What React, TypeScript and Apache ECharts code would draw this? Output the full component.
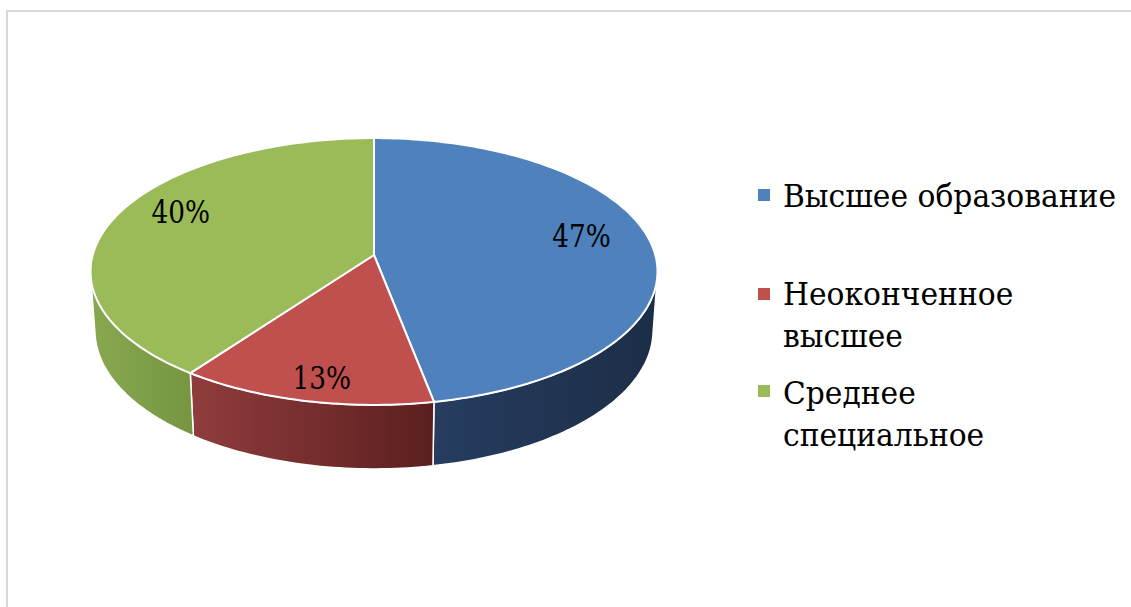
import React, { useEffect, useRef } from 'react';
import * as echarts from 'echarts';

const categories = ['Высшее образование', 'Неоконченное высшее', 'Среднее специальное'];
const legendLabels = ['Высшее образование', 'Неоконченное\nвысшее', 'Среднее\nспециальное'];
const values = [47, 13, 40];

const topColors = ['#4f81bd', '#c0504d', '#9bbb59'];
const sideColors = [
  ['#263d60', '#1c2d46'],
  ['#903c3c', '#5c1f1f'],
  ['#88a850', '#769541'],
];

// projection parameters (perspective view of a flat cylinder)
const CX = 374;
const CY = 255;
const FRD = 281.3;
const RD = 0.1398;
const H = 0.239;
const sinA = 0.467;
const cosA = Math.sqrt(1 - sinA * sinA);
const VIS_A = Math.acos(-RD / cosA);
const VIS_B = 2 * Math.PI - VIS_A;
const SERIF = 'DejaVu Serif';

function proj(theta: number, rho: number, yRel: number): number[] {
  const X = rho * Math.sin(theta);
  const Z = -rho * Math.cos(theta);
  const u = yRel * cosA - Z * sinA;
  const w = Z * cosA + yRel * sinA;
  const d = 1 - w * RD;
  return [CX + (FRD * X) / d, CY - (FRD * u) / d];
}

function arc(a: number, b: number, y: number): number[][] {
  const n = Math.max(8, Math.ceil(Math.abs(b - a) / 0.02));
  const pts: number[][] = [];
  for (let k = 0; k <= n; k++) {
    pts.push(proj(a + ((b - a) * k) / n, 1, y));
  }
  return pts;
}

export default function App() {
  const ref = useRef<HTMLDivElement>(null);
  useEffect(() => {
    if (!ref.current) return;
    const chart = echarts.init(ref.current, undefined, { renderer: 'svg' });
    const total = values.reduce((s, v) => s + v, 0);

    const renderItem = (params: any, api: any) => {
      const i = params.dataIndex;
      const v = api.value(0);
      const before = values.slice(0, i).reduce((s, x) => s + x, 0);
      const start = (before / total) * Math.PI * 2;
      const end = start + (v / total) * Math.PI * 2;
      const children: any[] = [];
      const vs = Math.max(start, VIS_A);
      const ve = Math.min(end, VIS_B);
      if (ve > vs) {
        const pts = arc(vs, ve, 0).concat(arc(ve, vs, -H));
        children.push({
          type: 'polygon',
          shape: { points: pts },
          z2: 1,
          style: {
            fill: new echarts.graphic.LinearGradient(0, 0, 1, 0, [
              { offset: 0, color: sideColors[i][0] },
              { offset: 1, color: sideColors[i][1] },
            ]),
            stroke: '#ffffff',
            lineWidth: 1.5,
          },
        });
      }
      const topPts = [proj(0, 0, 0)].concat(arc(start, end, 0));
      children.push({
        type: 'polygon',
        shape: { points: topPts },
        z2: 10,
        style: { fill: topColors[i], stroke: '#ffffff', lineWidth: 2 },
      });
      const mid = (start + end) / 2;
      const m = proj(mid, 1, 0);
      const t = 0.75;
      const lx = CX + (m[0] - CX) * t;
      const ly = CY + (m[1] - CY) * t * 1.2 - 8;
      children.push({
        type: 'text',
        x: lx,
        y: ly,
        scaleX: 0.85,
        z2: 20,
        style: {
          text: Math.round((v / total) * 100) + '%',
          fill: '#000000',
          fontFamily: SERIF,
          fontSize: 31,
          align: 'center',
          verticalAlign: 'middle',
        },
      });
      return { type: 'group', children };
    };

    const legendTops = [175, 273.5, 372];
    const markerTops = [189, 288, 385];
    const legendGraphics: any[] = [];
    legendLabels.forEach((lab, i) => {
      legendGraphics.push({
        type: 'rect',
        shape: { x: 758, y: markerTops[i], width: 12, height: 12 },
        style: { fill: topColors[i] },
      });
      legendGraphics.push({
        type: 'text',
        x: 783,
        y: legendTops[i],
        scaleX: 0.96,
        style: {
          text: lab,
          fill: '#000000',
          fontFamily: SERIF,
          fontSize: 31,
          lineHeight: 42,
          align: 'left',
          verticalAlign: 'top',
        },
      });
    });

    chart.setOption({
      animation: false,
      backgroundColor: '#ffffff',
      graphic: [
        {
          type: 'rect',
          shape: { x: 7, y: 11, width: 1300, height: 800 },
          style: { fill: 'none', stroke: '#d9d9d9', lineWidth: 2 },
          z: -1,
        },
        ...legendGraphics,
      ],
      series: [
        {
          type: 'custom',
          coordinateSystem: 'none',
          renderItem,
          data: values.map((v, i) => ({ name: categories[i], value: v })),
        },
      ],
    });
    return () => chart.dispose();
  }, []);
  return (
    <div
      ref={ref}
      style={{ position: 'fixed', left: 0, top: 0, width: 1131, height: 607 }}
    />
  );
}
